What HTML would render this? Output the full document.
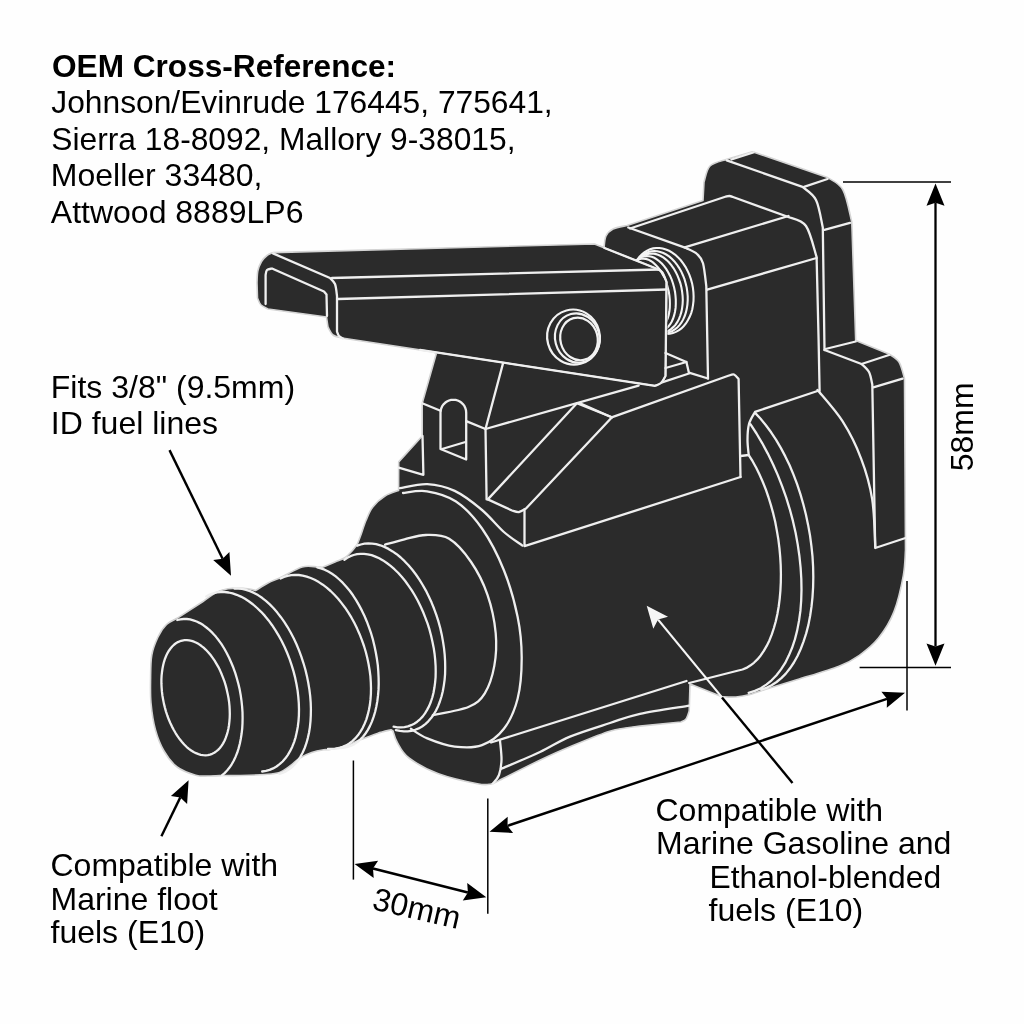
<!DOCTYPE html>
<html><head><meta charset="utf-8"><style>
html,body{margin:0;padding:0;background:#ffffff;}
svg{position:absolute;left:0;top:0;display:block;will-change:transform}
text{font-family:"Liberation Sans",sans-serif;fill:#000}
</style></head><body>
<svg width="1024" height="1024" viewBox="0 0 1024 1024">
<rect width="1024" height="1024" fill="#fefefe"/>
<path d="M434 352L600 246L604 248C604.3 246 604.5 239.2 606 236C607.5 232.8 609.5 230.8 613 229C616.5 227.2 624.7 226.1 627 225.5L703 200.5L704 182C705 179.3 706.3 169.8 710 166C713.7 162.2 723.3 160.6 726 159.5L752.5 151.7L827.5 177.5C830.1 179.6 839 182.6 843 190C847 197.4 850.3 216.7 851.8 222L855.7 340.5L889 354C890.7 355.3 896.4 357.9 899 362C901.6 366.1 903.6 375.8 904.5 378.6L905.5 550C905.1 554.3 905.2 565.3 903.3 575.6C901.4 585.9 898.1 601.2 894 611.6C889.9 622 884.3 630.8 878.5 638.1C872.7 645.4 866 650.6 859.4 655.3C852.8 660 848.9 662.3 839 666.2C829.1 670.2 806.5 676.7 800 678.8L765 689.5C762.5 690.3 754.8 693.2 750 694.5C745.2 695.8 740.7 696.6 736 697C731.3 697.4 724.3 696.8 722 696.7L690 684L689.2 711C688.7 712.3 687.4 717.2 686 719C684.6 720.8 681.8 721.5 681 722L640 726.1C635.1 726.9 622.3 727.5 610.6 731C598.9 734.5 581.7 742 570 746.8C558.3 751.6 552 754.5 540.3 760C528.6 765.5 506.7 776.7 500 780C498.5 780.7 494.8 783.4 491 784C487.2 784.6 486.2 785.5 477.4 783.8C468.6 782.1 449.8 778 438.4 773.8C427 769.5 415.9 763.2 409 758C402.1 752.8 400 747 397.3 742.5C394.6 738 393.7 732.9 393 731L391 729.8C388.7 730.4 382.5 731.7 377.4 733.4C372.3 735.1 365.6 737.7 360.2 739.8C354.8 741.9 350 744.4 345 746C340 747.6 333.6 748.9 330 749.5C326.4 750.1 326.8 749.3 323.7 749.8C320.6 750.3 315.6 751.2 311.7 752.6C307.8 754 303.6 755.8 300 758C296.4 760.2 293.4 763.6 290 766C286.6 768.4 283.7 771.1 279.5 772.5C275.3 773.9 271.6 774 265 774.5C258.4 775 247.2 775.3 240 775.5C232.8 775.7 224.7 775.5 221.6 775.5C219.3 775.6 212.3 776 208 776C203.7 776 200.8 776.7 195.7 775.2C190.5 773.7 182.4 771 177.1 767C171.8 763 167.6 757.2 164 751C160.4 744.8 157.7 738 155.5 730C153.3 722 151.8 711.7 151 703C150.2 694.3 150.5 686 150.6 678C150.7 670 150.6 661.8 151.8 655C153 648.2 155.6 642.1 158 637C160.4 631.9 163.3 627.6 166.5 624.5C169.7 621.4 175.2 619.3 177 618.3L203 601.5C205.2 600 212 594.6 216.2 592.5C220.3 590.4 223.4 589.5 227.9 588.8C232.4 588.1 238.3 588 243 588.3C247.7 588.6 253.8 590 255.9 590.4C257.9 589.2 263.7 585.2 268 583C272.3 580.8 275.9 579.7 281.6 577C287.3 574.3 296.2 568.6 302.2 566.9C308.1 565.2 314 566.8 317.3 566.9C320.6 567 321.2 567.4 322 567.5C324.2 566.6 331.1 563.7 335 562C338.9 560.3 342.4 559.3 345.2 557.5C348 555.7 350 553.2 352 551C354 548.8 356.3 545.6 357.2 544.5C357.8 543.1 359 540.1 360.5 536C362 531.9 364.1 524.9 366.2 520C368.2 515.1 369.7 510.9 372.8 506.9C375.9 502.9 380.7 498.7 385 496C389.3 493.3 396.3 491.4 398.6 490.5L398.7 461.9L422.2 436L422.2 403.3L436.2 354Z" fill="#2b2b2b" stroke="#d4d4d4" stroke-width="1.6" stroke-linejoin="round"/>
<path d="M257 283C257.1 281 257.1 274.6 257.8 271C258.6 267.4 260 264.1 261.5 261.5C263 258.9 265.1 257 267 255.5C268.9 254 272 253.1 273 252.6L594.5 244L655 268C656.2 268.7 660.1 269.7 662 272C663.9 274.3 665.8 280.3 666.5 282L666.5 290L665.5 376C664.8 377.2 662.8 381.4 661 383C659.2 384.6 656 385.3 655 385.8L342 338C340.5 337.5 335.3 336.8 333 335C330.7 333.2 328.8 328.3 328 327L326.5 317L268 309C266.8 308.3 262.8 306.8 261 305C259.2 303.2 258.1 299.2 257.5 298L257 283Z" fill="#2b2b2b" stroke="#d4d4d4" stroke-width="1.6" stroke-linejoin="round"/>
<g fill="none" stroke="#efefef" stroke-width="2.3" stroke-linecap="round" stroke-linejoin="round">
<path d="M420 349.9L655 385.8C656 385.3 659.2 384.6 661 383C662.8 381.4 664.8 377.2 665.5 376L666.5 282C665.8 280.3 663.9 274.3 662 272C660.1 269.7 656.2 268.7 655 268L604.5 248"/>
<path d="M273 253.4L330 278C330.8 279 333.8 281 335 284C336.2 287 336.7 294 337 296L337 331.6C337.3 332.3 338 334.9 339 336C340 337.1 342.3 338.1 343 338.5"/>
<path d="M332 278L659 269.5"/>
<path d="M338 299L666.5 289.5"/>
<path d="M265.6 304L265.6 275C265.8 274.2 265.9 271.1 267 270C268.1 268.9 271.2 268.8 272 268.5L324 291.5C324.4 292 326.1 294 326.5 294.5L327 316"/>
<path d="M630 228.5L726 196.5C726.6 196.4 728.3 195.9 729.5 196C730.7 196.1 732.4 196.8 733 197L788.4 217C791.3 218.5 801.3 219.3 806 226C810.7 232.7 814.8 251.8 816.6 257L818.6 340L819.6 391"/>
<path d="M628.3 227.5L686.4 248.2C688.2 249.2 694.2 251.5 697 254C699.8 256.5 701.5 257.8 703 263.2C704.5 268.6 705.8 282.5 706.3 286.4L708 378.5"/>
<path d="M684.7 247.4L788.5 216"/>
<path d="M707.2 289.7L816.6 258"/>
<path d="M726.7 160.3L802.5 186.9C804.8 189.1 812.6 193.2 816 200C819.4 206.8 821.7 222.9 822.8 227.5L824.5 350"/>
<path d="M731.4 159.5L753.3 152.5"/>
<path d="M804 186.9L827.5 179"/>
<path d="M824.4 229.8L850 222.8"/>
<path d="M825.4 349L855.7 341.5"/>
<path d="M824.5 350L861.5 364C862.8 365.3 867.2 368.6 869 372C870.8 375.4 871.8 382.4 872.3 384.5L875.2 548L905.5 538"/>
<path d="M861.5 364L889 355"/>
<path d="M873.3 387.4L902.6 378.6"/>
<path d="M817.5 390C821.7 395.2 835.2 409.8 842.5 421.2C849.8 432.7 856.3 445.7 861.2 458.8C866.2 471.8 869.9 484.8 872.2 499.4C874.5 514 874.8 538.4 875.3 546.2"/>
<path d="M740.5 456L748.7 455C748.5 452.5 747.5 445.2 747.5 440C747.5 434.8 747.8 428.7 749 424C750.2 419.3 754 413.9 755 411.9L817.5 391"/>
<path d="M755.1 412.9L760.6 418.8L765.9 425.3L771.1 432.3L776.1 439.9L780.8 447.9L785.3 456.4L789.6 465.3L793.5 474.6L797.1 484.2L800.4 494.1L803.3 504.2L805.9 514.5L808.1 524.9L810 535.4L811.4 545.9L812.5 556.4L813.1 566.8L813.3 577.1L813.1 587.2L812.5 597.1L811.5 606.7L810.1 616L808.4 624.9L806.2 633.4L803.6 641.4L800.7 649L797.5 656L793.9 662.5L790 668.3L785.8 673.6L781.3 678.1L776.6 682L771.6 685.3L766.5 687.8L761.2 689.6"/>
<path d="M750.4 424.2L756.5 433.5L762.3 443.3L767.8 453.6L773 464.2L777.8 475.1L782.2 486.3L786.2 497.7L789.8 509.3L792.9 520.9L795.6 532.7L797.7 544.4L799.4 556L800.6 567.5L801.3 578.7L801.5 589.8L801.2 600.5L800.4 610.9L799 620.9L797.2 630.4L794.9 639.4L792.1 647.8L788.8 655.6L785.2 662.9L781 669.4L776.5 675.2L771.6 680.3L766.3 684.6L760.8 688.2L754.9 690.9L748.7 692.9"/>
<path d="M748.9 455.3L752.6 461.2L756.2 467.7L759.5 474.5L762.7 481.7L765.7 489.2L768.4 497L770.9 505.1L773.2 513.4L775.2 521.8L776.8 530.4L778.3 539.1L779.4 547.8L780.2 556.6L780.7 565.2L780.9 573.8L780.8 582.3L780.4 590.6L779.7 598.6L778.7 606.5L777.4 614L775.8 621.2L773.9 628L771.8 634.4L769.4 640.4L766.7 645.9L763.8 650.9L760.7 655.4L757.4 659.4L753.9 662.8L750.2 665.6L746.4 667.9L742.5 669.5L738.4 670.5L689.2 683"/>
<path d="M422.2 403.3L440.5 410.7"/>
<path d="M466.2 421.1L485.5 429L503 363.4"/>
<path d="M485.5 429L486.6 499.4"/>
<path d="M485.5 429L638.6 385.6"/>
<path d="M422.5 436L423.4 474.8L398.7 467.7"/>
<path d="M440.5 449L440.5 412.6L440.7 410.4L441.3 408.2L442.2 406.2L443.5 404.3L445.1 402.8L446.9 401.5L449 400.5L451.1 399.9L453.4 399.8L455.6 399.9L457.7 400.5L459.8 401.5L461.6 402.8L463.2 404.3L464.5 406.2L465.4 408.2L466 410.4L466.2 412.6L466.2 459.5L440.5 449"/>
<path d="M442 449L465.5 442"/>
<path d="M487.8 499.4L576.9 403.3L612 417.3"/>
<path d="M487.8 499.4L512 510.5C513.2 510.8 516.7 512.3 519 512C521.3 511.7 524.8 509.1 526 508.5L612 417.3"/>
<path d="M524.5 509.5L524.5 546.2L740.5 477"/>
<path d="M580 403.2L611.6 417.3L729 375.5C729.8 375.3 732.4 373.9 734 374.5C735.6 375.1 737.8 378.2 738.6 379L740.5 477"/>
<path d="M665.5 353L686.4 362L688.9 372.7L708 378.5"/>
<path d="M665.5 368L686.4 362"/>
<path d="M662 382.3L689 373.5"/>
<path d="M400 488.2C404.6 487.5 418.2 483.7 427.3 484.1C436.4 484.6 445.6 486.6 454.7 490.9C463.8 495.2 473.8 503.1 482 510C490.2 516.9 497.2 526.1 503.9 532C510.6 537.9 519.3 543.3 522.4 545.6"/>
<path d="M403 493C407 492.7 418.2 489.9 427 491.3C435.8 492.7 446.8 495.3 456 501.5C465.2 507.7 474 517 482 528.5C490 540 498 555.5 503.9 570.2C509.8 584.9 514.6 602.1 517.6 616.7C520.6 631.3 521.7 644 521.7 657.7C521.7 671.4 520.6 686.9 517.6 698.8C514.6 710.6 509.8 721.1 503.9 728.8C498 736.5 490.2 742.2 482 745.2C473.8 748.2 463.8 747.7 454.7 746.6C445.6 745.5 434.6 741.4 427.3 738.4C420 735.4 413.6 730.4 410.9 728.8"/>
<path d="M385.1 544.7C388.3 543.8 397.7 540.9 404.5 539.3C411.3 537.7 418.4 535.1 425.9 535C433.3 534.9 441.7 534.3 449.2 538.8C456.7 543.3 464.7 552.7 471.1 562C477.5 571.3 483.4 582.9 487.5 594.8C491.6 606.6 494.6 621.2 495.7 633.1C496.8 645 496.1 655.9 494.3 665.9C492.5 675.9 489.1 686.4 484.8 693.3C480.5 700.1 477.1 703.4 468.4 707C459.7 710.6 438.7 713.8 432.8 715.2"/>
<path d="M344.4 559.8L347.3 557.8L350.4 556.2L353.6 555L357 554.2L360.5 553.8L364.1 553.9L367.8 554.3L371.6 555.2L375.4 556.6L379.2 558.3L383 560.4L386.8 563L390.6 565.9L394.4 569.2L398.1 572.8L401.7 576.8L405.2 581L408.5 585.6L411.8 590.4L414.9 595.5L417.8 600.8L420.5 606.3L423.1 612L425.4 617.8L427.6 623.7L429.5 629.7L431.1 635.8L432.5 641.9L433.7 647.9L434.6 654L435.2 659.9L435.6 665.8L435.7 671.6L435.6 677.2L435.1 682.6L434.4 687.8L433.5 692.8L432.3 697.5L430.8 702L429.1 706.1L427.1 709.9L425 713.4L422.6 716.6L420 719.3L417.2 721.7L414.2 723.7L411.1 725.2L407.9 726.4L404.4 727.1L400.9 727.4L397.3 727.3L393.6 726.7"/>
<path d="M357.2 545.7L360.8 544.5L364.5 543.7L368.3 543.4L372.2 543.6L376.2 544.2L380.3 545.3L384.4 546.9L388.5 548.9L392.6 551.4L396.7 554.2L400.7 557.5L404.6 561.2L408.5 565.3L412.3 569.8L415.9 574.5L419.4 579.6L422.7 585L425.9 590.6L428.8 596.5L431.6 602.6L434.1 608.8L436.4 615.2L438.5 621.7L440.3 628.3L441.8 634.9L443 641.6L444 648.2L444.7 654.7L445.1 661.2L445.2 667.6L445.1 673.8L444.6 679.8L443.8 685.6L442.8 691.2L441.5 696.5L439.9 701.5L438.1 706.2L436 710.6L433.6 714.5L431.1 718.1L428.3 721.3L425.3 724.1L422.1 726.5L418.7 728.4L415.2 729.8L411.5 730.8L407.7 731.3L403.9 731.4L399.9 730.9L395.9 730.1"/>
<path d="M280.6 578.5L284 577L287.5 575.9L291.2 575.2L295 574.9L298.8 575L302.7 575.6L306.7 576.6L310.7 578L314.7 579.8L318.8 582.1L322.8 584.7L326.7 587.7L330.6 591L334.4 594.7L338.1 598.7L341.6 603.1L345.1 607.7L348.4 612.6L351.5 617.7L354.4 623L357.1 628.6L359.6 634.2L361.9 640.1L364 646L365.8 652L367.3 658.1L368.6 664.2L369.6 670.2L370.4 676.2L370.8 682.2L371 688.1L370.9 693.8L370.5 699.4L369.9 704.8L368.9 709.9L367.7 714.9L366.3 719.6L364.5 724L362.6 728.1L360.3 731.9L357.9 735.3L355.2 738.4L352.4 741.1L349.3 743.4L346.1 745.4L342.7 746.9L339.2 748L335.5 748.7L331.7 748.9L327.9 748.8"/>
<path d="M317.3 567.4L320.9 568.4L324.6 569.7L328.3 571.6L332 573.8L335.7 576.4L339.3 579.5L342.9 582.9L346.3 586.7L349.7 590.8L353 595.3L356.1 600.1L359 605.1L361.8 610.4L364.5 616L366.9 621.7L369.1 627.6L371.2 633.7L373 639.9L374.5 646.2L375.8 652.5L376.9 658.8L377.8 665.2L378.3 671.5L378.6 677.7L378.7 683.9L378.5 689.9L378 695.7L377.3 701.4L376.3 706.8L375.1 712L373.6 716.9L371.9 721.6L370 725.9L367.9 729.9L365.5 733.5L363 736.8L360.2 739.6L357.3 742.1L354.3 744.1L351.1 745.7L347.8 746.9L344.3 747.7L340.8 748"/>
<path d="M206.2 596.4L209.6 594.6L213.2 593.3L216.8 592.4L220.7 592L224.6 592L228.6 592.5L232.6 593.4L236.7 594.8L240.9 596.6L245 598.8L249.1 601.5L253.1 604.5L257.1 608L261.1 611.8L264.9 615.9L268.6 620.4L272.1 625.2L275.5 630.3L278.7 635.7L281.8 641.2L284.6 647L287.2 653L289.6 659.1L291.7 665.3L293.6 671.6L295.2 677.9L296.5 684.3L297.6 690.6L298.3 696.9L298.8 703.2L299 709.3L298.9 715.3L298.5 721.1L297.8 726.7L296.8 732.1L295.6 737.3L294.1 742.1L292.3 746.7L290.2 750.9L287.9 754.8L285.4 758.3L282.6 761.5L279.6 764.2L276.5 766.5L273.1 768.4L269.6 769.9L266 770.9L262.2 771.5"/>
<path d="M234.4 588.5L238.2 588.5L242.1 588.9L246 589.8L250 591.1L254 592.9L258 595.1L262 597.8L265.9 600.9L269.8 604.4L273.6 608.3L277.3 612.6L280.9 617.2L284.4 622.1L287.7 627.3L290.8 632.8L293.8 638.5L296.6 644.5L299.1 650.6L301.4 656.9L303.5 663.3L305.4 669.8L307 676.4L308.3 683L309.4 689.6L310.2 696.1L310.7 702.6L310.9 708.9L310.8 715.2L310.5 721.2L309.9 727.1L309 732.7L307.8 738.1L306.4 743.2L304.7 748L302.7 752.5L300.5 756.6L298.1 760.3L295.4 763.6L292.6 766.5L289.5 769L286.3 771.1L283 772.7L279.4 773.9"/>
<path d="M177.3 620L180.4 619.3L183.6 619L186.8 619L190.1 619.4L193.3 620.3L196.6 621.5L199.9 623.1L203.2 625.1L206.4 627.5L209.6 630.2L212.7 633.2L215.8 636.6L218.7 640.3L221.5 644.2L224.2 648.5L226.7 653L229.1 657.7L231.3 662.7L233.4 667.8L235.3 673.1L236.9 678.5L238.4 684L239.7 689.6L240.7 695.2L241.5 700.9L242.1 706.5L242.5 712.2L242.6 717.7L242.5 723.2L242.2 728.6L241.6 733.8L240.8 738.8L239.8 743.7L238.6 748.4L237.2 752.8L235.5 756.9L233.7 760.8L231.7 764.3L229.5 767.6L227.1 770.5L224.6 773.1L221.9 775.3"/>
<path d="M184.6 640.2L186.9 640.1L189.2 640.4L191.6 640.9L194 641.7L196.4 642.8L198.8 644.1L201.2 645.8L203.6 647.7L205.9 649.8L208.2 652.2L210.4 654.8L212.5 657.6L214.6 660.6L216.5 663.8L218.4 667.1L220.1 670.6L221.7 674.3L223.2 678.1L224.6 681.9L225.8 685.9L226.8 689.9L227.7 693.9L228.5 698L229.1 702L229.5 706.1L229.7 710.1L229.8 714L229.7 717.8L229.4 721.6L229 725.2L228.4 728.7L227.6 732.1L226.7 735.2L225.6 738.2L224.4 741L223 743.6L221.5 745.9L219.9 748L218.1 749.9L216.2 751.4L214.3 752.8L212.2 753.8L210 754.6L207.8 755.1L205.5 755.3L203.2 755.2L200.8 754.8L198.5 754.1L196 753.2L193.6 752L191.2 750.5L188.9 748.8L186.5 746.8L184.2 744.5L182 742L179.8 739.3L177.7 736.4L175.7 733.3L173.8 730L172 726.6L170.3 723L168.7 719.3L167.3 715.5L166 711.6L164.9 707.6L163.9 703.6L163.1 699.5L162.4 695.5L161.9 691.4L161.6 687.4L161.4 683.4L161.4 679.5L161.6 675.7L162 672L162.5 668.5L163.2 665L164 661.8L165 658.7L166.2 655.8L167.5 653.1L168.9 650.7L170.5 648.5L172.2 646.5L174 644.7L175.9 643.3L177.9 642.1L180 641.2L182.2 640.6L184.5 640.2"/>
<path d="M491 742.5L686.5 681"/>
<path d="M500.9 768.9C507.4 766.1 528.5 757.4 540 752C551.5 746.6 558.3 741.4 570 736.6C581.7 731.8 598.3 726.8 610 723C621.7 719.2 626.8 716.7 640 713.8C653.2 710.9 681 707 689.2 705.6"/>
<path d="M500 740.5C500.2 743.8 501.7 754.2 501.5 760C501.3 765.8 500.4 771.1 499 775C497.6 778.9 494 782.1 493 783.5"/>
</g>
<clipPath id="cc"><path d="M590 190 L730 190 L730 345 L667.5 345 L667.5 283 L656 268.5 L594 243.5 Z"/></clipPath>
<g fill="none" stroke="#f4f4f4" stroke-width="2.1" stroke-linecap="round" clip-path="url(#cc)">
<path d="M637.2 259.8L639.3 257L641.7 254.5L644.3 252.3L647.1 250.6L650 249.3L653.1 248.4L656.2 248L659.5 248L662.7 248.5L665.9 249.5L669.1 250.8L672.2 252.6L675.3 254.8L678.1 257.4L680.8 260.3L683.3 263.6L685.6 267.1L687.6 270.9L689.4 274.9L690.9 279.1L692.1 283.4L692.9 287.7L693.4 292.1L693.6 296.5L693.5 300.9L693 305.1L692.3 309.2L691.2 313.1L689.7 316.8L688 320.1L686.1 323.2L683.8 326L681.4 328.4L678.7 330.4L675.9 331.9L672.9 333.1L669.8 333.8L666.6 334L663.4 333.8L660.1 333.2"/>
<path d="M634.8 264.6L636.5 261.6L638.5 258.9L640.7 256.5L643.2 254.6L645.7 253L648.5 251.9L651.3 251.2L654.3 251L657.3 251.2L660.3 251.9L663.3 253L666.2 254.5L669.1 256.4L671.8 258.8L674.4 261.4L676.9 264.5L679.1 267.8L681.2 271.4L682.9 275.2L684.5 279.2L685.7 283.4L686.7 287.6L687.3 291.9L687.7 296.2L687.7 300.4L687.4 304.6L686.8 308.6L685.9 312.4L684.7 316L683.2 319.4L681.5 322.4L679.5 325.1L677.3 327.5L674.8 329.4L672.3 331L669.5 332.1L666.7 332.8L663.7 333L660.7 332.8L657.7 332.1"/>
<path d="M632.1 269.2L633.6 265.9L635.2 263L637.2 260.4L639.3 258.2L641.6 256.4L644.1 255.1L646.7 254.1L649.5 253.6L652.3 253.5L655.1 253.9L658 254.8L660.8 256L663.6 257.7L666.3 259.8L668.9 262.3L671.3 265.1L673.6 268.3L675.6 271.7L677.4 275.4L679 279.3L680.4 283.3L681.4 287.4L682.1 291.6L682.6 295.8L682.8 300L682.6 304.1L682.1 308.1L681.4 311.9L680.3 315.5L679 318.9L677.4 321.9L675.6 324.6L673.5 326.9L671.3 328.9L668.9 330.5L666.3 331.6L663.6 332.3L660.8 332.5L658 332.3L655.1 331.6"/>
<path d="M629.6 273.5L630.7 270.1L632 267L633.5 264.3L635.2 261.9L637.2 259.9L639.3 258.3L641.6 257.1L644 256.3L646.5 256L649.1 256.2L651.7 256.8L654.3 257.8L656.8 259.3L659.3 261.2L661.8 263.5L664.1 266.1L666.3 269.1L668.3 272.4L670.1 275.9L671.7 279.6L673 283.5L674.1 287.6L675 291.7L675.5 295.8L675.8 299.9L675.8 304L675.6 307.9L675 311.7L674.2 315.2L673.1 318.5L671.8 321.5L670.2 324.2L668.4 326.5L666.4 328.5L664.2 330L661.9 331.1L659.5 331.8L657 332L654.4 331.7L651.8 331"/>
<path d="M626.8 277.8L627.5 274.4L628.5 271.1L629.7 268.2L631.2 265.7L632.9 263.4L634.7 261.6L636.7 260.2L638.9 259.2L641.2 258.7L643.5 258.6L645.9 258.9L648.4 259.7L650.8 261L653.2 262.6L655.5 264.7L657.8 267.1L659.9 269.9L661.9 273L663.7 276.4L665.3 280L666.7 283.7L667.8 287.7L668.8 291.7L669.4 295.7L669.8 299.8L669.9 303.7L669.8 307.6L669.4 311.3L668.7 314.9L667.8 318.1L666.6 321.1L665.2 323.8L663.6 326.1L661.7 328L659.8 329.5L657.6 330.6L655.4 331.3L653 331.5L650.6 331.2L648.2 330.5"/>
</g>
<g fill="none" stroke="#f2f2f2" stroke-width="2.2"><ellipse cx="573.5" cy="337.1" rx="26.3" ry="27.6" transform="rotate(-15 573.5 337.1)"/><ellipse cx="577.3" cy="338" rx="22.2" ry="24.8" transform="rotate(-15 577.3 338)"/><ellipse cx="579" cy="338.9" rx="18.6" ry="21.5" transform="rotate(-15 579 338.9)"/></g>
<line x1="722" y1="697.4" x2="658.1" y2="619.6" stroke="#f6f6f6" stroke-width="2.2"/>
<path d="M646.7 605.7 L668 616.7 L658.1 619.6 L653.3 628.7 Z" fill="#f6f6f6"/>
<line x1="722" y1="697.4" x2="792.5" y2="783" stroke="#000" stroke-width="2.4"/>
<line x1="843" y1="181.9" x2="951" y2="181.9" stroke="#000" stroke-width="1.5"/>
<line x1="859.6" y1="667.4" x2="951" y2="667.4" stroke="#000" stroke-width="1.5"/>
<line x1="907" y1="581" x2="907" y2="710.4" stroke="#000" stroke-width="1.5"/>
<line x1="935.5" y1="202.7" x2="935.5" y2="646.5" stroke="#000" stroke-width="2.3"/>
<path d="M935.5 183.4 L944.5 205.7 L935.5 202.7 L926.5 205.7 Z" fill="#000"/>
<path d="M935.5 665.8 L926.5 643.5 L935.5 646.5 L944.5 643.5 Z" fill="#000"/>
<text x="972.7" y="471.3" font-size="32" transform="rotate(-90 972.7 471.3)">58mm</text>
<line x1="487.8" y1="798.6" x2="487.8" y2="913.8" stroke="#000" stroke-width="1.5"/>
<line x1="507.5" y1="825.8" x2="887" y2="698.8" stroke="#000" stroke-width="2.4"/>
<path d="M489.5 831.8 L507.7 816.8 L507.5 825.8 L513.1 832.9 Z" fill="#000"/>
<path d="M905 692.8 L886.8 707.8 L887 698.8 L881.4 691.7 Z" fill="#000"/>
<line x1="353.4" y1="760.5" x2="353.4" y2="879.6" stroke="#000" stroke-width="1.5"/>
<line x1="373" y1="868.6" x2="467.9" y2="892.6" stroke="#000" stroke-width="2.6"/>
<path d="M354.6 864 L378.1 860.7 L373 868.6 L373.7 878.1 Z" fill="#000"/>
<path d="M486.3 897.2 L462.8 900.5 L467.9 892.6 L467.2 883.1 Z" fill="#000"/>
<text x="371" y="909" font-size="32" transform="rotate(13 371 909)">30mm</text>
<line x1="169.5" y1="450.1" x2="222.6" y2="558.7" stroke="#000" stroke-width="2.4"/>
<path d="M231 575.8 L213.2 560 L222.6 558.7 L229.4 552.1 Z" fill="#000"/>
<line x1="161.4" y1="836.2" x2="180.3" y2="797.4" stroke="#000" stroke-width="2.4"/>
<path d="M188.6 780.3 L187.1 804 L180.3 797.4 L170.9 796.1 Z" fill="#000"/>
<text x="52" y="77" font-size="31.6" font-weight="bold">OEM Cross-Reference:</text>
<text x="51.3" y="113" font-size="31.75">Johnson/Evinrude 176445, 775641,</text>
<text x="51.3" y="150" font-size="31.75">Sierra 18-8092, Mallory 9-38015,</text>
<text x="50.8" y="186" font-size="32">Moeller 33480,</text>
<text x="50.8" y="222.5" font-size="32">Attwood 8889LP6</text>
<text x="50.8" y="398" font-size="32">Fits 3/8&quot; (9.5mm)</text>
<text x="50.8" y="434.4" font-size="32">ID fuel lines</text>
<text x="50.5" y="875.5" font-size="32">Compatible with</text>
<text x="50.5" y="909.8" font-size="32">Marine floot</text>
<text x="50.5" y="942.8" font-size="32">fuels (E10)</text>
<text x="655.5" y="820.6" font-size="32">Compatible with</text>
<text x="656" y="854" font-size="32">Marine Gasoline and</text>
<text x="709.5" y="887.8" font-size="31.8">Ethanol-blended</text>
<text x="708.5" y="920.6" font-size="32">fuels (E10)</text>
</svg>
</body></html>
